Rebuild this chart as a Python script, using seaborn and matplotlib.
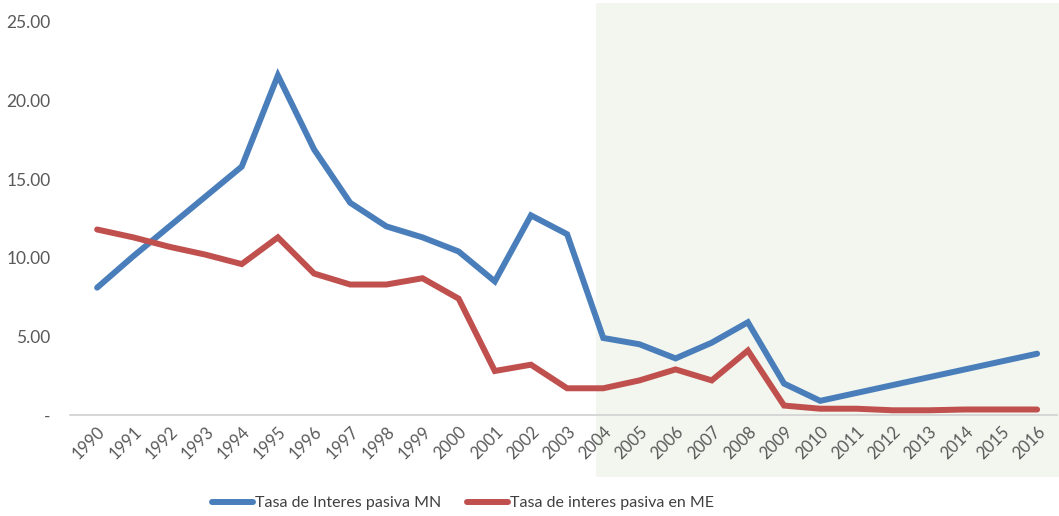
import matplotlib
matplotlib.use("Agg")
import matplotlib.pyplot as plt
import seaborn as sns
import pandas as pd
from matplotlib.patches import Rectangle
from matplotlib.ticker import FuncFormatter

years = list(range(1990, 2017))
tasa_mn = [8.1, 10.1, 12.0, 13.9, 15.8, 21.6, 16.9, 13.5, 12.0, 11.3, 10.4, 8.5, 12.7,
           11.5, 4.9, 4.5, 3.6, 4.6, 5.9, 2.0, 0.9, 1.4, 1.9, 2.4, 2.9, 3.4, 3.9]
tasa_me = [11.8, 11.3, 10.7, 10.2, 9.6, 11.3, 9.0, 8.3, 8.3, 8.7, 7.4, 2.8, 3.2,
           1.7, 1.7, 2.2, 2.9, 2.2, 4.1, 0.6, 0.4, 0.4, 0.3, 0.3, 0.35, 0.35, 0.35]
series_names = ["Tasa de Interes pasiva MN", "Tasa de interes pasiva en ME"]
series_colors = ["#4a7ebb", "#c0504d"]
y_ticks = [0, 5, 10, 15, 20, 25]

df = pd.DataFrame({
    "year": years * 2,
    "value": tasa_mn + tasa_me,
    "serie": [series_names[0]] * len(years) + [series_names[1]] * len(years),
})

sns.set_theme(style="white")
plt.rcParams["font.family"] = ["Lato", "DejaVu Sans"]

fig = plt.figure(figsize=(10.59, 5.16), dpi=100)
fig.patch.set_facecolor("white")

# pale green band marking the 2004-2016 period
band = Rectangle((596 / 1059, 1 - 477 / 516), (1059 - 596) / 1059, (477 - 3) / 516,
                 transform=fig.transFigure, facecolor="#f2f6ee", edgecolor="none", zorder=-1)
fig.patches.append(band)

ax = fig.add_axes([70 / 1059, 1 - 415 / 516, (1057 - 70) / 1059, (415 - 22) / 516])
ax.set_zorder(2)
ax.patch.set_alpha(0)

sns.lineplot(data=df, x="year", y="value", hue="serie", palette=series_colors,
             hue_order=series_names, linewidth=4.3, ax=ax, legend=True)
for ln in ax.lines:
    ln.set_solid_joinstyle("miter")
    ln.set_solid_capstyle("round")

ax.set_xlim(1990 - 0.75, 2016 + 0.55)
ax.set_ylim(0, 25)
ax.set_xticks(years)
ax.set_xticklabels([str(y) for y in years], rotation=45, ha="right",
                   rotation_mode="anchor", fontsize=12, color="#595959")
ax.set_yticks(y_ticks)
ax.yaxis.set_major_formatter(FuncFormatter(lambda v, p: "-" if v == 0 else f"{v:.2f}"))
ax.tick_params(axis="y", labelsize=12.5, labelcolor="#595959", length=0, pad=14)
ax.tick_params(axis="x", length=0, pad=6)
ax.set_xlabel("")
ax.set_ylabel("")
for side in ["left", "right", "top"]:
    ax.spines[side].set_visible(False)
ax.spines["bottom"].set_color("#d0d0d0")
ax.spines["bottom"].set_linewidth(1.2)

handles, labels = ax.get_legend_handles_labels()
ax.legend_.remove()
leg = fig.legend(handles, labels, loc="center", bbox_to_anchor=(463 / 1059, 1 - 503 / 516),
                 ncol=2, frameon=False, fontsize=11.5, handlelength=2.6, handletextpad=0.1,
                 columnspacing=1.6, labelcolor="#404040")
leg.set_zorder(3)

fig.savefig("out.png", dpi=100)
